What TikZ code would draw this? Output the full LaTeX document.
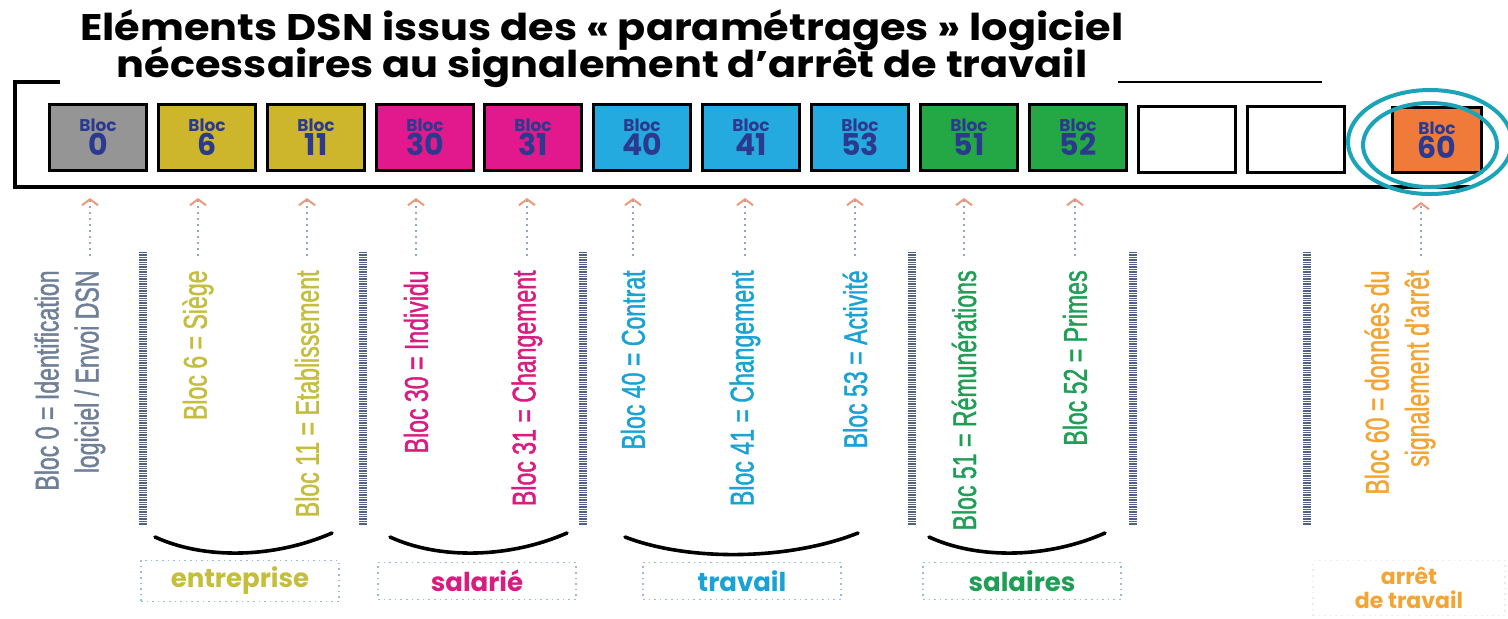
\documentclass[tikz,border=0pt]{standalone}
\usepackage{fontspec}
\setmainfont{Liberation Sans}
\newfontfamily\roundfont{Poppins}
\newfontfamily\widefont[FakeStretch=1.12]{Poppins}
\newfontfamily\narrowfont[FakeStretch=0.70,FakeBold=1.2]{Liberation Sans}
\usetikzlibrary{arrows.meta, calc}

\definecolor{cgray}{HTML}{959595}
\definecolor{cyel}{HTML}{CDB52C}
\definecolor{cmag}{HTML}{E2198C}
\definecolor{ccyan}{HTML}{25AADF}
\definecolor{cgreen}{HTML}{23A845}
\definecolor{corange}{HTML}{F07A3A}
\definecolor{navy}{HTML}{2B3A8F}
\definecolor{lgray}{HTML}{6E7F96}
\definecolor{lyel}{HTML}{C4BE3C}
\definecolor{lmag}{HTML}{D91C80}
\definecolor{lcyan}{HTML}{1AA2D4}
\definecolor{lgreen}{HTML}{1F9E55}
\definecolor{lorange}{HTML}{F2A535}
\definecolor{ringc}{HTML}{1BA3B8}
\definecolor{shaft}{HTML}{8FA8C8}
\definecolor{tipc}{HTML}{E89A7A}
\definecolor{divc}{HTML}{4F6282}
\definecolor{tagc}{HTML}{9DB8D8}

\begin{document}
\begin{tikzpicture}[x=0.5pt,y=-0.5pt,
  >={Straight Barb[length=3pt,width=8pt,color=tipc]},
  title/.style={anchor=base,font=\widefont\bfseries\fontsize{18.5}{22}\selectfont},
  bloc/.style={draw=black,line width=1.5pt,minimum width=48.5pt,minimum height=33pt,
    inner sep=0pt,align=center,text=navy,font=\roundfont\bfseries},
  lab/.style={rotate=90,anchor=east,align=right,inner sep=2pt,
    font=\narrowfont\fontsize{16.5}{20}\selectfont},
  uparrow/.style={->,dotted,draw=shaft,line width=1pt,shorten <=5pt},
  divider/.style={draw=divc,line width=4pt,dash pattern=on 0.7pt off 0.5pt},
  smile/.style={line width=1.8pt,line cap=round},
  tag/.style={draw=tagc,dotted,line width=0.8pt,minimum width=99pt,minimum height=18.5pt,
    font=\roundfont\bfseries\fontsize{13}{13}\selectfont},
  ring/.style={draw=ringc,line width=2pt}]
\useasboundingbox[fill=white] (0,0) rectangle (1508,618);

\node[title] (t1) at (602,40){Eléments DSN issus des « paramétrages » logiciel};
\node[title] (t2) at (602,77){nécessaires au signalement d’arrêt de travail};
\draw[line width=1.2pt] (1118,82) -- (1322,82);
\draw[line width=2pt] (60,82) -- (15,82) -- (15,187) -- (1470,187);

\node[bloc,fill=cgray](b0) at (98,137){{\fontsize{8.5}{10}\selectfont Bloc}\\{\fontsize{15}{16}\selectfont 0}};
\node[bloc,fill=cyel](b6) at (207,137){{\fontsize{8.5}{10}\selectfont Bloc}\\{\fontsize{15}{16}\selectfont 6}};
\node[bloc,fill=cyel](b11) at (316,137){{\fontsize{8.5}{10}\selectfont Bloc}\\{\fontsize{15}{16}\selectfont 11}};
\node[bloc,fill=cmag](b30) at (425,137){{\fontsize{8.5}{10}\selectfont Bloc}\\{\fontsize{15}{16}\selectfont 30}};
\node[bloc,fill=cmag](b31) at (533,137){{\fontsize{8.5}{10}\selectfont Bloc}\\{\fontsize{15}{16}\selectfont 31}};
\node[bloc,fill=ccyan](b40) at (642,137){{\fontsize{8.5}{10}\selectfont Bloc}\\{\fontsize{15}{16}\selectfont 40}};
\node[bloc,fill=ccyan](b41) at (751,137){{\fontsize{8.5}{10}\selectfont Bloc}\\{\fontsize{15}{16}\selectfont 41}};
\node[bloc,fill=ccyan](b53) at (860,137){{\fontsize{8.5}{10}\selectfont Bloc}\\{\fontsize{15}{16}\selectfont 53}};
\node[bloc,fill=cgreen](b51) at (969,137){{\fontsize{8.5}{10}\selectfont Bloc}\\{\fontsize{15}{16}\selectfont 51}};
\node[bloc,fill=cgreen](b52) at (1078,137){{\fontsize{8.5}{10}\selectfont Bloc}\\{\fontsize{15}{16}\selectfont 52}};
\node[bloc,fill=white](e1) at (1187,139){};
\node[bloc,fill=white](e2) at (1296,139){};
\node[bloc,fill=corange,minimum width=44.5pt,minimum height=32.5pt](b60) at (1437,140){{\fontsize{8.5}{10}\selectfont Bloc}\\{\fontsize{15}{16}\selectfont 60}};
\draw[ring] (1430,142) ellipse (41pt and 26pt);
\draw[ring] (1430,145) ellipse (33.5pt and 21pt);

\node[lab,text=lgray](l0) at (70,266){Bloc 0 = Identification\\logiciel / Envoi DSN};
\node[lab,text=lyel](l6) at (198,266){Bloc 6 = Siège};
\node[lab,text=lyel](l11) at (307,266){Bloc 11 = Etablissement};
\node[lab,text=lmag](l30) at (416,266){Bloc 30 = Individu};
\node[lab,text=lmag](l31) at (527,266){Bloc 31 = Changement};
\node[lab,text=lcyan](l40) at (633,266){Bloc 40 = Contrat};
\node[lab,text=lcyan](l41) at (745,266){Bloc 41 = Changement};
\node[lab,text=lcyan](l53) at (855,266){Bloc 53 = Activité};
\node[lab,text=lgreen](l51) at (964,266){Bloc 51 = Rémunérations};
\node[lab,text=lgreen](l52) at (1075,266){Bloc 52 = Primes};
\node[lab,text=lorange](l60) at (1400,266){Bloc 60 = données du\\signalement d’arrêt};

\coordinate (q0) at (90,198);
\coordinate (q6) at (198,198);
\coordinate (q11) at (307,198);
\coordinate (q30) at (416,198);
\coordinate (q31) at (527,198);
\coordinate (q40) at (633,198);
\coordinate (q41) at (745,198);
\coordinate (q53) at (855,198);
\coordinate (q51) at (964,198);
\coordinate (q52) at (1075,198);
\coordinate (q60) at (1421,202);
\draw[uparrow](q0 |- l0.east)--(q0);
\draw[uparrow](q6 |- l6.east)--(q6);
\draw[uparrow](q11 |- l11.east)--(q11);
\draw[uparrow](q30 |- l30.east)--(q30);
\draw[uparrow](q31 |- l31.east)--(q31);
\draw[uparrow](q40 |- l40.east)--(q40);
\draw[uparrow](q41 |- l41.east)--(q41);
\draw[uparrow](q53 |- l53.east)--(q53);
\draw[uparrow](q51 |- l51.east)--(q51);
\draw[uparrow](q52 |- l52.east)--(q52);
\draw[uparrow](q60 |- l60.east)--(q60);

\draw[divider] (143,252) -- (143,525);
\draw[divider] (363,252) -- (363,525);
\draw[divider] (583,252) -- (583,525);
\draw[divider] (912,252) -- (912,525);
\draw[divider] (1133,252) -- (1133,525);
\draw[divider] (1307,252) -- (1307,525);

\draw[smile] (155,537) .. controls (205,560) and (275,558) .. (332,533);
\draw[smile] (390,537) .. controls (440,560) and (510,558) .. (567,533);
\draw[smile] (625,537) .. controls (690,562) and (790,560) .. (858,533);
\draw[smile] (929,537) .. controls (979,560) and (1049,558) .. (1105,533);

\node[tag,text=lyel](g1) at (240,581){entreprise};
\node[tag,text=lmag](g2) at (477,581){salarié};
\node[tag,text=lcyan](g3) at (742,581){travail};
\node[tag,text=lgreen](g4) at (1022,581){salaires};
\node[tag,text=lorange,draw=gray!15,minimum width=96pt,minimum height=27.5pt,align=center,
  font=\roundfont\bfseries\fontsize{11}{12}\selectfont](g5) at (1409,588){arrêt\\de travail};
\end{tikzpicture}
\end{document}
